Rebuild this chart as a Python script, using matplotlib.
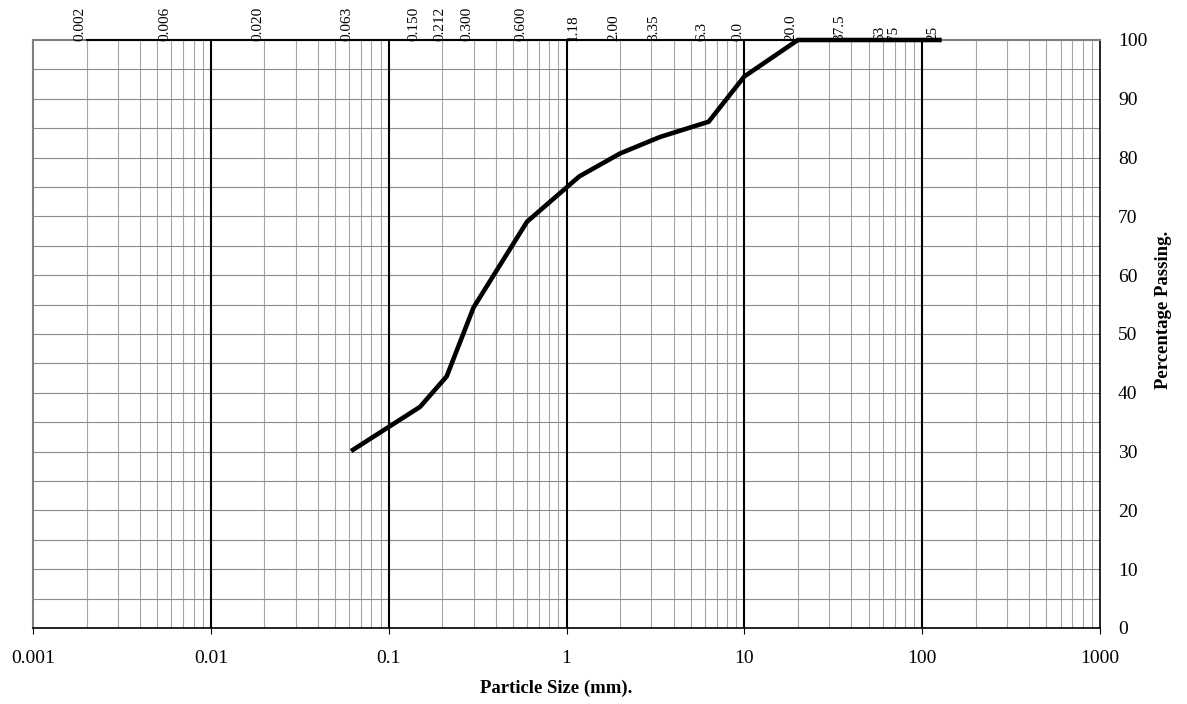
import matplotlib.pyplot as plt
from matplotlib.ticker import FixedLocator, NullFormatter

# sieve sizes shown as labels along the top of the chart (mm)
sieve_mm = [0.002, 0.006, 0.020, 0.063, 0.150, 0.212, 0.300, 0.600, 1.18,
            2.00, 3.35, 6.3, 10.0, 20.0, 37.5, 63, 75, 125]
sieve_labels = ["0.002", "0.006", "0.020", "0.063", "0.150", "0.212", "0.300",
                "0.600", "1.18", "2.00", "3.35", "6.3", "0.0", "20.0", "37.5",
                "63", "75", "25"]

# grading curve
grading_mm = [0.063, 0.150, 0.212, 0.300, 0.600, 1.18, 2.00, 3.35, 6.3,
              10.0, 20.0, 37.5, 63, 75, 125]
passing = [30.3, 37.6, 42.8, 54.5, 69.1, 76.8, 80.7, 83.5, 86.1,
           93.8, 100, 100, 100, 100, 100]

decades = [0.001, 0.01, 0.1, 1, 10, 100, 1000]
decade_labels = ["0.001", "0.01", "0.1", "1", "10", "100", "1000"]

plt.rcParams['font.family'] = ['Liberation Serif', 'DejaVu Serif']

fig = plt.figure(figsize=(11.87, 7.04), dpi=100)
ax = fig.add_axes([33 / 1187, 1 - 628 / 704, 1067 / 1187, 588 / 704])

ax.set_xscale('log')
ax.set_xlim(0.001, 1000)
ax.set_ylim(0, 100)

# grid: minor verticals grey, decade verticals black, horizontals every 5 %
minor = [m * d for d in decades[:-1] for m in range(2, 10)]
for x in minor:
    ax.axvline(x, color='#a6a6a6', lw=0.8, zorder=1)
for x in decades[1:-1]:
    ax.axvline(x, color='black', lw=1.5, zorder=2)
for y in range(5, 100, 5):
    ax.axhline(y, color='#8c8c8c', lw=0.8, zorder=1)

# thin line along 100 % carrying the sieve labels
ax.plot(sieve_mm, [100] * len(sieve_mm), color='black', lw=1.5,
        clip_on=False, zorder=3)
for x, lbl in zip(sieve_mm, sieve_labels):
    ax.annotate(lbl, (x, 100), xytext=(0, -1), textcoords='offset points',
                rotation=90, ha='right', va='bottom', fontsize=11,
                annotation_clip=False)

ax.plot(grading_mm, passing, color='black', lw=3.3, clip_on=False,
        solid_joinstyle='miter', zorder=4)

ax.xaxis.set_major_locator(FixedLocator(decades))
ax.set_xticklabels(decade_labels)
ax.xaxis.set_minor_formatter(NullFormatter())
ax.tick_params(axis='x', which='major', length=4, width=0.8, pad=12,
               labelsize=14, direction='out')
ax.tick_params(axis='x', which='minor', length=0)

ax.yaxis.tick_right()
ax.set_yticks(range(0, 101, 10))
ax.tick_params(axis='y', length=0, pad=13, labelsize=14)

for side in ['left', 'top']:
    ax.spines[side].set_color('#808080')
    ax.spines[side].set_linewidth(1.5)
for side in ['right', 'bottom']:
    ax.spines[side].set_color('black')
    ax.spines[side].set_linewidth(1.2)

fig.text(556 / 1187, 1 - 688 / 704, 'Particle Size (mm).', ha='center',
         va='center', fontsize=13.5, fontweight='bold')
fig.text(1163 / 1187, 1 - 310 / 704, 'Percentage Passing.', ha='center',
         va='center', rotation=90, fontsize=13.5, fontweight='bold')

fig.savefig('out.png', dpi=100)
